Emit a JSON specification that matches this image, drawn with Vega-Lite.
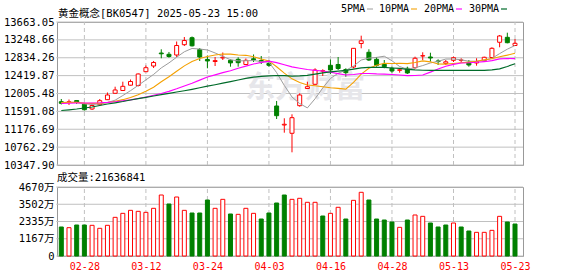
{
"$schema": "https://vega.github.io/schema/vega-lite/v6.json",
"background": "white",
"padding": {"left": 2, "top": 4, "right": 0, "bottom": 0},
"datasets": {"k": [
{"d":"02-25","open":11815,"high":11878,"low":11751,"close":11778,"volume":19630000,"ma5":11795,"ma10":11798,"ma20":11775,"ma30":11611},
{"d":"02-26","open":11802,"high":11866,"low":11739,"close":11813,"volume":19170000,"ma5":11798,"ma10":11799,"ma20":11780,"ma30":11628},
{"d":"02-27","open":11843,"high":11855,"low":11762,"close":11808,"volume":20980000,"ma5":11800,"ma10":11800,"ma20":11785,"ma30":11646},
{"d":"02-28","open":11757,"high":11792,"low":11611,"close":11630,"volume":20980000,"ma5":11766,"ma10":11783,"ma20":11785,"ma30":11669},
{"d":"03-03","open":11646,"high":11751,"low":11623,"close":11727,"volume":20760000,"ma5":11751,"ma10":11776,"ma20":11785,"ma30":11692},
{"d":"03-04","open":11746,"high":11878,"low":11732,"close":11839,"volume":18730000,"ma5":11763,"ma10":11780,"ma20":11790,"ma30":11727},
{"d":"03-05","open":11862,"high":12029,"low":11855,"close":11971,"volume":20760000,"ma5":11795,"ma10":11797,"ma20":11800,"ma30":11762},
{"d":"03-06","open":12010,"high":12163,"low":12006,"close":12087,"volume":26170000,"ma5":11851,"ma10":11826,"ma20":11815,"ma30":11790},
{"d":"03-07","open":12075,"high":12279,"low":12063,"close":12172,"volume":28880000,"ma5":11959,"ma10":11863,"ma20":11835,"ma30":11820},
{"d":"03-10","open":12198,"high":12330,"low":12191,"close":12284,"volume":30910000,"ma5":12071,"ma10":11911,"ma20":11858,"ma30":11855},
{"d":"03-11","open":12191,"high":12469,"low":12168,"close":12458,"volume":30230000,"ma5":12194,"ma10":11979,"ma20":11889,"ma30":11885},
{"d":"03-12","open":12511,"high":12655,"low":12504,"close":12604,"volume":29550000,"ma5":12321,"ma10":12058,"ma20":11925,"ma30":11915},
{"d":"03-13","open":12643,"high":12759,"low":12597,"close":12724,"volume":32270000,"ma5":12448,"ma10":12150,"ma20":11965,"ma30":11947},
{"d":"03-14","open":12944,"high":13030,"low":12822,"close":12926,"volume":41280000,"ma5":12599,"ma10":12279,"ma20":12005,"ma30":11978},
{"d":"03-17","open":12914,"high":12968,"low":12835,"close":12863,"volume":35190000,"ma5":12715,"ma10":12393,"ma20":12055,"ma30":12008},
{"d":"03-18","open":12898,"high":13211,"low":12852,"close":13118,"volume":39930000,"ma5":12847,"ma10":12521,"ma20":12115,"ma30":12040},
{"d":"03-19","open":13137,"high":13315,"low":13107,"close":13234,"volume":30910000,"ma5":12973,"ma10":12647,"ma20":12180,"ma30":12070},
{"d":"03-20","open":13299,"high":13327,"low":13095,"close":13111,"volume":29100000,"ma5":13050,"ma10":12749,"ma20":12245,"ma30":12103},
{"d":"03-21","open":13026,"high":13060,"low":12759,"close":12852,"volume":29100000,"ma5":13036,"ma10":12817,"ma20":12315,"ma30":12138},
{"d":"03-24","open":12794,"high":12887,"low":12590,"close":12760,"volume":37900000,"ma5":13015,"ma10":12865,"ma20":12388,"ma30":12175},
{"d":"03-25","open":12747,"high":12852,"low":12643,"close":12768,"volume":32270000,"ma5":12945,"ma10":12896,"ma20":12438,"ma30":12209},
{"d":"03-26","open":12829,"high":12956,"low":12782,"close":12845,"volume":38350000,"ma5":12867,"ma10":12920,"ma20":12489,"ma30":12244},
{"d":"03-27","open":12775,"high":12798,"low":12627,"close":12715,"volume":28430000,"ma5":12788,"ma10":12919,"ma20":12534,"ma30":12281},
{"d":"03-28","open":12798,"high":12845,"low":12627,"close":12720,"volume":28200000,"ma5":12762,"ma10":12899,"ma20":12589,"ma30":12318},
{"d":"03-31","open":12678,"high":12817,"low":12666,"close":12775,"volume":32270000,"ma5":12765,"ma10":12890,"ma20":12641,"ma30":12358},
{"d":"04-01","open":12810,"high":12910,"low":12736,"close":12787,"volume":28880000,"ma5":12768,"ma10":12857,"ma20":12688,"ma30":12383},
{"d":"04-02","open":12771,"high":12875,"low":12689,"close":12736,"volume":25040000,"ma5":12747,"ma10":12807,"ma20":12727,"ma30":12402},
{"d":"04-03","open":12701,"high":12782,"low":12627,"close":12659,"volume":29100000,"ma5":12731,"ma10":12762,"ma20":12755,"ma30":12416},
{"d":"04-07","open":11716,"high":11832,"low":11414,"close":11491,"volume":35870000,"ma5":12490,"ma10":12626,"ma20":12722,"ma30":12423},
{"d":"04-08","open":11275,"high":11431,"low":11097,"close":11292,"volume":41280000,"ma5":12193,"ma10":12478,"ma20":12673,"ma30":12419},
{"d":"04-09","open":11083,"high":11523,"low":10642,"close":11445,"volume":38350000,"ma5":11925,"ma10":12346,"ma20":12622,"ma30":12408},
{"d":"04-10","open":11723,"high":12010,"low":11700,"close":11971,"volume":39050000,"ma5":11772,"ma10":12259,"ma20":12590,"ma30":12413},
{"d":"04-11","open":12121,"high":12279,"low":12110,"close":12163,"volume":36340000,"ma5":11672,"ma10":12203,"ma20":12562,"ma30":12425},
{"d":"04-14","open":12219,"high":12590,"low":12203,"close":12550,"volume":36340000,"ma5":11884,"ma10":12187,"ma20":12543,"ma30":12455},
{"d":"04-15","open":12523,"high":12567,"low":12411,"close":12534,"volume":27070000,"ma5":12133,"ma10":12163,"ma20":12527,"ma30":12482},
{"d":"04-16","open":12659,"high":12794,"low":12458,"close":12550,"volume":28880000,"ma5":12354,"ma10":12139,"ma20":12499,"ma30":12506},
{"d":"04-17","open":12678,"high":12852,"low":12550,"close":12585,"volume":32960000,"ma5":12476,"ma10":12124,"ma20":12466,"ma30":12526},
{"d":"04-18","open":12562,"high":12590,"low":12395,"close":12488,"volume":25040000,"ma5":12541,"ma10":12107,"ma20":12435,"ma30":12540},
{"d":"04-21","open":12620,"high":13060,"low":12590,"close":13053,"volume":37670000,"ma5":12642,"ma10":12263,"ma20":12445,"ma30":12569},
{"d":"04-22","open":13165,"high":13346,"low":13053,"close":13227,"volume":43110000,"ma5":12781,"ma10":12457,"ma20":12468,"ma30":12601},
{"d":"04-23","open":12961,"high":13030,"low":12759,"close":12782,"volume":37900000,"ma5":12827,"ma10":12590,"ma20":12469,"ma30":12611},
{"d":"04-24","open":12798,"high":12852,"low":12627,"close":12659,"volume":25040000,"ma5":12842,"ma10":12659,"ma20":12459,"ma30":12613},
{"d":"04-25","open":12682,"high":12782,"low":12590,"close":12627,"volume":24360000,"ma5":12870,"ma10":12706,"ma20":12455,"ma30":12610},
{"d":"04-28","open":12590,"high":12627,"low":12488,"close":12527,"volume":23010000,"ma5":12764,"ma10":12703,"ma20":12445,"ma30":12597},
{"d":"04-29","open":12543,"high":12590,"low":12488,"close":12555,"volume":19400000,"ma5":12630,"ma10":12705,"ma20":12434,"ma30":12586},
{"d":"04-30","open":12590,"high":12627,"low":12458,"close":12481,"volume":24360000,"ma5":12570,"ma10":12698,"ma20":12419,"ma30":12565},
{"d":"05-06","open":12604,"high":12859,"low":12580,"close":12822,"volume":27750000,"ma5":12602,"ma10":12722,"ma20":12423,"ma30":12551},
{"d":"05-07","open":12875,"high":12961,"low":12782,"close":12882,"volume":26850000,"ma5":12653,"ma10":12762,"ma20":12434,"ma30":12544},
{"d":"05-08","open":12852,"high":12951,"low":12743,"close":12829,"volume":22330000,"ma5":12714,"ma10":12739,"ma20":12501,"ma30":12543},
{"d":"05-09","open":12760,"high":12798,"low":12666,"close":12745,"volume":19630000,"ma5":12752,"ma10":12691,"ma20":12573,"ma30":12542},
{"d":"05-12","open":12705,"high":12782,"low":12666,"close":12740,"volume":20980000,"ma5":12804,"ma10":12686,"ma20":12638,"ma30":12541},
{"d":"05-13","open":12775,"high":12859,"low":12736,"close":12835,"volume":22330000,"ma5":12806,"ma10":12703,"ma20":12681,"ma30":12541},
{"d":"05-14","open":12775,"high":12822,"low":12720,"close":12782,"volume":19630000,"ma5":12786,"ma10":12719,"ma20":12712,"ma30":12542},
{"d":"05-15","open":12729,"high":12782,"low":12627,"close":12666,"volume":16920000,"ma5":12754,"ma10":12733,"ma20":12718,"ma30":12541},
{"d":"05-16","open":12713,"high":12822,"low":12650,"close":12747,"volume":16020000,"ma5":12754,"ma10":12753,"ma20":12729,"ma30":12540},
{"d":"05-19","open":12766,"high":12859,"low":12743,"close":12845,"volume":16020000,"ma5":12775,"ma10":12790,"ma20":12743,"ma30":12542},
{"d":"05-20","open":12840,"high":13077,"low":12822,"close":13053,"volume":17370000,"ma5":12819,"ma10":12813,"ma20":12767,"ma30":12553},
{"d":"05-21","open":13193,"high":13362,"low":13077,"close":13339,"volume":26850000,"ma5":12930,"ma10":12859,"ma20":12809,"ma30":12576},
{"d":"05-22","open":13308,"high":13415,"low":13169,"close":13183,"volume":23010000,"ma5":13033,"ma10":12895,"ma20":12816,"ma30":12632},
{"d":"05-23","open":13118,"high":13269,"low":13107,"close":13169,"volume":21636841,"ma5":13118,"ma10":12938,"ma20":12813,"ma30":12695}
]},
"config": {
  "font": "DejaVu Sans Mono, Noto Sans CJK SC",
  "view": {"stroke": "#999999", "strokeWidth": 1},
  "axis": {"labelFont": "DejaVu Sans Mono, Noto Sans CJK SC", "labelFontSize": 10.5, "labelColor": "#000000", "labelOverlap": false, "labelFlush": false},
  "concat": {"spacing": 1}
},
"vconcat": [
{
  "width": 466, "height": 143,
  "resolve": {"axis": {"x": "independent", "y": "independent"}},
  "layer": [
    {"data": {"name": "k"},
     "mark": {"type": "rule", "color": "#c0c0c0", "strokeWidth": 1, "strokeDash": [4, 3]},
     "encoding": {
       "x": {"field": "d", "type": "ordinal", "sort": null, "scale": {"type": "point", "padding": 0.8, "align": 0.35}, "axis": null},
       "y": {"datum": 10347.9, "type": "quantitative", "scale": {"domain": [10347.9, 13663.05], "zero": false, "nice": false}, "axis": null},
       "y2": {"datum": 13663.05},
       "strokeOpacity": {"condition": {"test": "indexof(['02-28','03-12','03-24','04-03','04-16','04-28','05-13','05-23'], datum.d) >= 0", "value": 1}, "value": 0}
     }},
    {"data": {"values": [{"p": 10347.9}, {"p": 10762.29}, {"p": 11176.69}, {"p": 11591.08}, {"p": 12005.48}, {"p": 12419.87}, {"p": 12834.26}, {"p": 13248.66}, {"p": 13663.05}]},
     "mark": {"type": "rule", "color": "#c0c0c0", "strokeWidth": 1, "xOffset": -5, "x2Offset": 8},
     "encoding": {
       "x": {"datum": "02-25", "type": "ordinal", "axis": null},
       "x2": {"datum": "05-23"},
       "y": {"field": "p", "type": "quantitative",
         "axis": {"values": [10347.9, 10762.29, 11176.69, 11591.08, 12005.48, 12419.87, 12834.26, 13248.66, 13663.05], "format": ".2f", "grid": false, "ticks": false, "domain": false, "title": null, "labelOverlap": false, "labelPadding": 3, "minExtent": 54, "maxExtent": 54}}
     }},
    {"data": {"name": "k"},
     "mark": {"type": "text", "align": "left", "baseline": "alphabetic", "dx": 7, "font": "Noto Sans CJK SC", "fontSize": 30, "fontWeight": "bold", "color": "#e6e6ea"},
     "encoding": {
       "x": {"field": "d", "type": "ordinal", "sort": null, "axis": null},
       "y": {"datum": 11925, "type": "quantitative", "axis": null},
       "text": {"condition": {"test": "datum.d == '03-28'", "value": "东方财富"}, "value": ""}}},
    {"data": {"name": "k"},
     "mark": {"type": "rule", "strokeWidth": 1},
     "encoding": {
       "x": {"field": "d", "type": "ordinal", "sort": null, "axis": null},
       "y": {"field": "low", "type": "quantitative", "axis": null},
       "y2": {"field": "high"},
       "color": {"condition": {"test": "datum.close > datum.open", "value": "#ff0000"}, "value": "#008000"}
     }},
    {"data": {"name": "k"},
     "mark": {"type": "bar", "size": 4, "strokeWidth": 1},
     "encoding": {
       "x": {"field": "d", "type": "ordinal", "sort": null, "axis": null},
       "y": {"field": "open", "type": "quantitative", "axis": null},
       "y2": {"field": "close"},
       "fill": {"condition": {"test": "datum.close > datum.open", "value": "#ffffff"}, "value": "#008000"},
       "stroke": {"condition": {"test": "datum.close > datum.open", "value": "#ff0000"}, "value": "#008000"}
     }},
    {"data": {"name": "k"},
     "transform": [{"fold": ["ma5","ma10","ma20","ma30"], "as": ["ma","v"]}],
     "mark": {"type": "line"},
     "encoding": {
       "x": {"field": "d", "type": "ordinal", "sort": null, "axis": null},
       "y": {"field": "v", "type": "quantitative", "axis": null},
       "strokeWidth": {"field": "ma", "type": "nominal", "scale": {"domain": ["ma5","ma10","ma20","ma30"], "range": [1, 1.2, 1.5, 1.5]}, "legend": null},
       "color": {"field": "ma", "type": "nominal",
         "scale": {"domain": ["ma5","ma10","ma20","ma30"], "range": ["#9c9c9c","#f4a000","#ff00ff","#006b2a"]},
         "legend": {"orient": "none", "legendX": 1, "legendY": -18, "direction": "horizontal",
           "title": "黄金概念[BK0547] 2025-05-23 15:00", "titleOrient": "left", "titlePadding": 106, "titleLimit": 400,
           "titleFont": "DejaVu Sans Mono, Noto Sans CJK SC", "titleFontSize": 10.5, "titleFontWeight": "normal", "titleColor": "#000000", "titleBaseline": "top",
           "symbolType": "stroke", "symbolSize": 36, "symbolStrokeWidth": 2.5,
           "labelAlign": "right", "labelOffset": -10, "labelFontSize": 10, "labelColor": "#000000",
           "labelFont": "DejaVu Sans Mono, Noto Sans CJK SC",
           "columnPadding": 3, "labelExpr": "slice(datum.label, 2) + 'PMA'"}}
     }}
  ]
},
{
  "width": 466, "height": 69,
  "title": {"text": "成交量:21636841", "anchor": "start", "frame": "group", "font": "DejaVu Sans Mono, Noto Sans CJK SC", "fontSize": 10.5, "fontWeight": "normal", "color": "#000000", "baseline": "alphabetic", "offset": -9},
  "resolve": {"axis": {"x": "independent", "y": "independent"}},
  "layer": [
    {"data": {"name": "k"},
     "mark": {"type": "rule", "color": "#c0c0c0", "strokeWidth": 1, "strokeDash": [4, 3]},
     "encoding": {
       "x": {"field": "d", "type": "ordinal", "sort": null, "scale": {"type": "point", "padding": 0.8, "align": 0.35},
         "axis": {"values": ["02-28","03-12","03-24","04-03","04-16","04-28","05-13","05-23"], "labelColor": "#ff0000", "labelAngle": 0, "labelFontSize": 10, "labelPadding": 5, "grid": false, "ticks": false, "domain": false, "title": null}},
       "y": {"datum": 0, "type": "quantitative", "scale": {"domain": [0, 46700000], "nice": false}, "axis": null},
       "y2": {"datum": 46700000},
       "strokeOpacity": {"condition": {"test": "indexof(['02-28','03-12','03-24','04-03','04-16','04-28','05-13','05-23'], datum.d) >= 0", "value": 1}, "value": 0}
     }},
    {"data": {"values": [{"q": 0}, {"q": 11675000}, {"q": 23350000}, {"q": 35025000}, {"q": 46700000}]},
     "mark": {"type": "rule", "color": "#c0c0c0", "strokeWidth": 1, "xOffset": -5, "x2Offset": 8},
     "encoding": {
       "x": {"datum": "02-25", "type": "ordinal", "axis": null},
       "x2": {"datum": "05-23"},
       "y": {"field": "q", "type": "quantitative",
         "axis": {"values": [0, 11675000, 23350000, 35025000, 46700000], "labelExpr": "datum.value == 0 ? '0' : floor(datum.value / 10000) + '万'", "grid": false, "ticks": false, "domain": false, "title": null, "labelOverlap": false, "labelPadding": 3, "minExtent": 54, "maxExtent": 54}}
     }},
    {"data": {"name": "k"},
     "transform": [{"window": [{"op": "lag", "field": "close", "as": "pc"}]}],
     "mark": {"type": "bar", "size": 4, "strokeWidth": 1},
     "encoding": {
       "x": {"field": "d", "type": "ordinal", "sort": null, "axis": null},
       "y": {"field": "volume", "type": "quantitative", "axis": null},
       "fill": {"condition": {"test": "datum.pc != null && datum.close > datum.pc", "value": "#ffffff"}, "value": "#008000"},
       "stroke": {"condition": {"test": "datum.pc != null && datum.close > datum.pc", "value": "#ff0000"}, "value": "#008000"}
     }}
  ]
}
]
}
